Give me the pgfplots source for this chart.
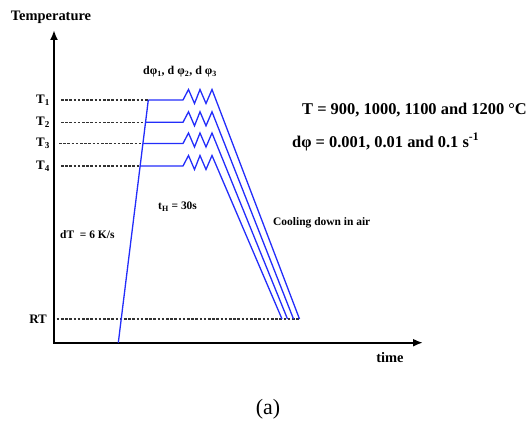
\documentclass[border=0pt]{standalone}
\usepackage{fontspec}
\setmainfont{Liberation Serif}
\usepackage{pgfplots}
\pgfplotsset{compat=1.18}
\usetikzlibrary{arrows.meta}
\definecolor{pblue}{RGB}{35,45,250}
\definecolor{dgray}{RGB}{50,50,50}
\begin{document}
\begin{tikzpicture}
\useasboundingbox (0,0) rectangle (531bp,425bp);
\begin{axis}[
  at={(54bp,82.3bp)}, anchor=south west,
  x=1bp, y=1bp,
  xmin=54, xmax=423, ymin=82.3, ymax=395,
  hide axis,
  clip=false,
]
% axes
\addplot[black, line width=2bp, line join=miter, {Latex[length=10bp,width=8bp]}-{Latex[length=10bp,width=8bp]}] coordinates {(54,395) (54,82.3) (423,82.3)};
% dashed reference lines
\addplot[dgray, line width=1.1bp, dash pattern=on 2.6bp off 1.6bp] coordinates {(61,325) (148.3,325)};
\addplot[dgray, line width=1.1bp, dash pattern=on 2.6bp off 1.6bp] coordinates {(61,302.7) (145.5,302.7)};
\addplot[dgray, line width=1.1bp, dash pattern=on 2.6bp off 1.6bp] coordinates {(59,281.5) (142.9,281.5)};
\addplot[dgray, line width=1.1bp, dash pattern=on 2.6bp off 1.6bp] coordinates {(61,259) (140.1,259)};
\addplot[dgray, line width=1.1bp, dash pattern=on 2.6bp off 1.6bp] coordinates {(56.7,106) (299.5,106)};
% heating
\addplot[pblue, line width=1.3bp] coordinates {(118.3,82.3) (148.3,325)};
% T1
\addplot[pblue, line width=1.3bp, line join=miter] coordinates {(148.3,325) (183,325) (188.5,335.5) (194.5,321.5) (200,335.5) (206,321.5) (212,335.5) (299.5,106)};
% T2
\addplot[pblue, line width=1.3bp, line join=miter] coordinates {(145.5,302.7) (183,302.7) (188.5,313.2) (194.5,299.2) (200,313.2) (206,299.2) (212,313.2) (293.5,106)};
% T3
\addplot[pblue, line width=1.3bp, line join=miter] coordinates {(142.9,281.5) (183,281.5) (188.5,292) (194.5,278) (200,292) (206,278) (212,292) (287.5,106)};
% T4
\addplot[pblue, line width=1.3bp, line join=miter] coordinates {(140.1,259) (183,259) (188.5,269.5) (194.5,255.5) (200,269.5) (206,255.5) (212,269.5) (282,106)};
% labels
\node[font=\bfseries\fontsize{14.5}{16}\selectfont] at (axis cs:51,408) {Temperature};
\node[font=\bfseries\fontsize{13}{14}\selectfont] at (axis cs:43,325) {T\textsubscript{1}};
\node[font=\bfseries\fontsize{13}{14}\selectfont] at (axis cs:43,302.7) {T\textsubscript{2}};
\node[font=\bfseries\fontsize{13}{14}\selectfont] at (axis cs:43,281.5) {T\textsubscript{3}};
\node[font=\bfseries\fontsize{13}{14}\selectfont] at (axis cs:43,259) {T\textsubscript{4}};
\node[font=\bfseries\fontsize{13}{14}\selectfont, anchor=east, inner sep=0pt] at (axis cs:47,106) {RT};
\node[font=\bfseries\fontsize{12}{13}\selectfont] at (axis cs:180,353) {dφ\textsubscript{1}, d φ\textsubscript{2}, d φ\textsubscript{3}};
\node[font=\bfseries\fontsize{16.5}{18}\selectfont, anchor=west, inner sep=0pt] at (axis cs:302,315) {T = 900, 1000, 1100 and 1200 °C};
\node[font=\bfseries\fontsize{16.5}{18}\selectfont, anchor=west, inner sep=0pt] at (axis cs:292,283) {dφ = 0.001, 0.01 and 0.1 s\textsuperscript{-1}};
\node[font=\bfseries\fontsize{11.5}{13}\selectfont, anchor=west, inner sep=0pt] at (axis cs:158,218) {t\textsubscript{H} = 30s};
\node[font=\bfseries\fontsize{11.5}{13}\selectfont, anchor=west, inner sep=0pt] at (axis cs:60,190) {dT \ = 6 K/s};
\node[font=\bfseries\fontsize{11.5}{13}\selectfont, anchor=west, inner sep=0pt] at (axis cs:273,202) {Cooling down in air};
\node[font=\bfseries\fontsize{14.5}{16}\selectfont] at (axis cs:390,67) {time};
\node[font=\fontsize{22}{24}\selectfont] at (axis cs:268,16) {(a)};
\end{axis}
\end{tikzpicture}
\end{document}
